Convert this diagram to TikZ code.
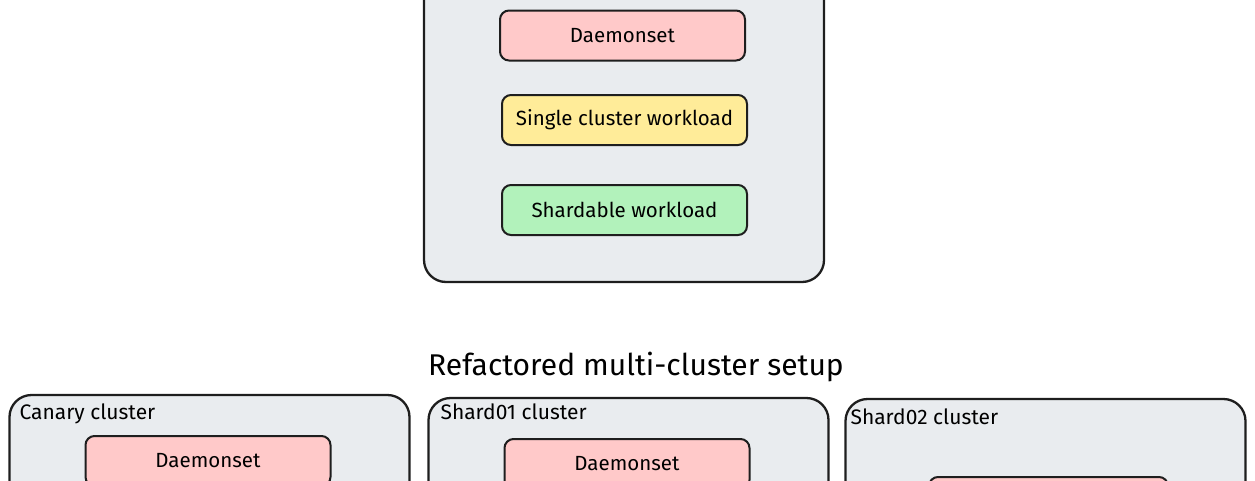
\documentclass[tikz,border=0pt]{standalone}
\usepackage{fontspec}
\setmainfont{Fira Sans}
\usetikzlibrary{positioning}

\definecolor{ink}{HTML}{1E1E1E}
\definecolor{clusterfill}{HTML}{E9ECEF}
\definecolor{daemonfill}{HTML}{FFC9C9}
\definecolor{singlefill}{HTML}{FFEC99}
\definecolor{shardfill}{HTML}{B2F2BB}

\begin{document}
\begin{tikzpicture}[x=1pt, y=-1pt,
    clusterbox/.style={draw=ink, line width=2.3pt, fill=clusterfill, rounded corners=22pt,
        minimum width=400pt, minimum height=300pt, inner sep=0pt},
    podbox/.style={draw=ink, line width=2pt, rounded corners=9pt,
        minimum width=245pt, minimum height=50pt, inner sep=0pt,
        font=\fontsize{20.5}{24}\selectfont},
    boxtitle/.style={anchor=base west, inner sep=0pt, font=\fontsize{21}{24}\selectfont}]
    \useasboundingbox (0,0) rectangle (1255,480);
    \clip (0,0) rectangle (1255,480);

    % single cluster
    \node[clusterbox, minimum height=342pt] (mono) at (624, 111) {};
    \node[podbox, fill=daemonfill] (monodaemon) at (622.5, 35.5) {Daemonset};
    \node[podbox, fill=singlefill] (monosingle) at (624.5, 120) {Single cluster workload};
    \node[podbox, fill=shardfill] (monoshard) at (624.5, 210) {Shardable workload};

    \node[font=\fontsize{30}{34}\selectfont] (setup) at (636, 367) {Refactored multi-cluster setup};

    % multi-cluster
    \node[clusterbox] (canary) at (209.5, 545) {};
    \node[clusterbox] (shardA) at (628.5, 548) {};
    \node[clusterbox] (shardB) at (1045.5, 549) {};

    \node[boxtitle] (canarytitle) at ([xshift=11pt, yshift=-26pt]canary.north west) {Canary cluster};
    \node[boxtitle] (shardAtitle) at ([xshift=13pt, yshift=-23pt]shardA.north west) {Shard01 cluster};
    \node[boxtitle] (shardBtitle) at ([xshift=6pt, yshift=-27pt]shardB.north west) {Shard02 cluster};

    \node[podbox, fill=daemonfill] (canarydaemon) at (208, 461) {Daemonset};
    \node[podbox, fill=daemonfill] (shardAdaemon) at (627, 464) {Daemonset};
    \node[podbox, fill=daemonfill, minimum width=239pt] (shardBdaemon) at (1048.5, 502) {};
\end{tikzpicture}
\end{document}
